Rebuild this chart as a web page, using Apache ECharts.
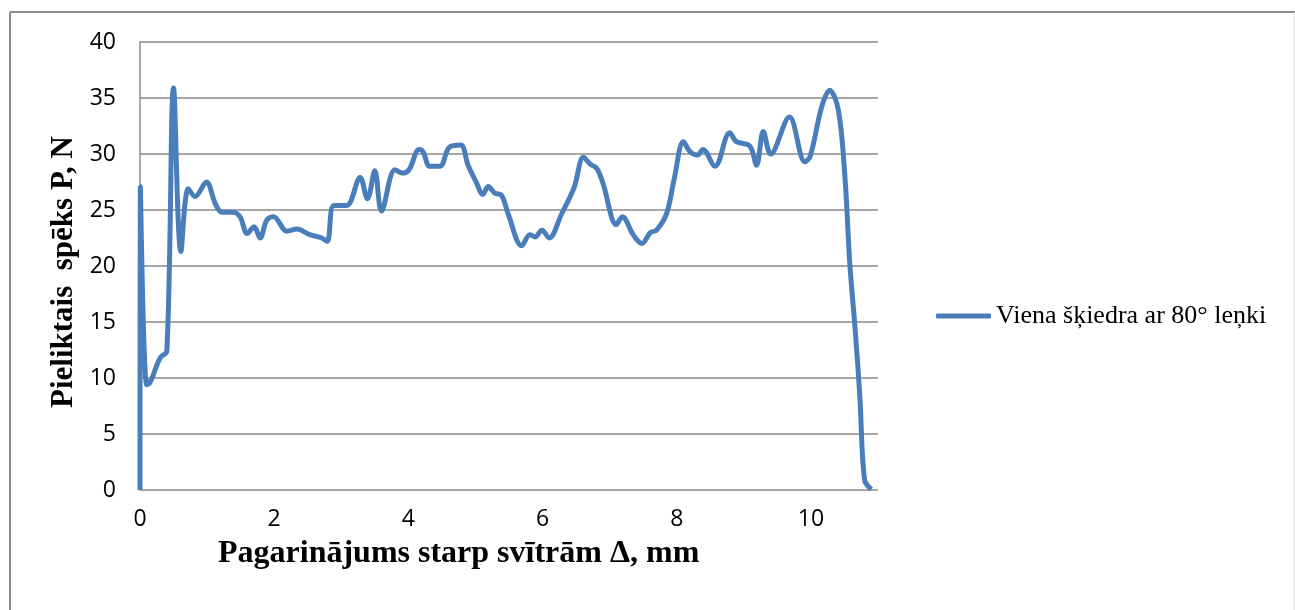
<!DOCTYPE html>
<html>
<head>
<meta charset="utf-8">
<script src="https://cdn.jsdelivr.net/npm/echarts@6/dist/echarts.min.js"></script>
<style>
  html, body { margin: 0; padding: 0; background: #ffffff; }
  #chart { width: 1295px; height: 610px; }
</style>
</head>
<body>
<div id="chart"></div>
<script>
// Elongation between marks (mm) and applied force (N)
const elongation = [
  0, 0.005, 0.1, 0.15, 0.30, 0.40, 0.50, 0.61, 0.72, 0.82, 0.99, 1.12, 1.22, 1.39, 1.49,
  1.60, 1.70, 1.79, 1.89, 1.99, 2.19, 2.34, 2.53, 2.71, 2.79, 2.89, 3.08, 3.28, 3.39, 3.50,
  3.60, 3.80, 3.91, 4.01, 4.16, 4.22, 4.32, 4.47, 4.61, 4.78, 4.89, 5.01, 5.11, 5.19, 5.29,
  5.39, 5.49, 5.69, 5.81, 5.89, 5.99, 6.10, 6.28, 6.47, 6.61, 6.71, 6.81, 6.90, 7.10, 7.19,
  7.35, 7.48, 7.61, 7.70, 7.85, 7.96, 8.10, 8.20, 8.31, 8.39, 8.57, 8.79, 8.89, 9.09, 9.19,
  9.29, 9.40, 9.68, 9.91, 9.99, 10.16, 10.28, 10.41, 10.51, 10.58, 10.66, 10.73, 10.80, 10.90
];
const force = [
  0, 27.1, 9.4, 9.6, 11.8, 12.4, 35.9, 21.3, 26.9, 26.2, 27.5, 25.6, 24.8, 24.8, 24.4,
  22.9, 23.5, 22.5, 24.1, 24.4, 23.1, 23.3, 22.8, 22.5, 22.2, 25.4, 25.4, 27.9, 26.0, 28.5,
  24.9, 28.6, 28.3, 28.6, 30.4, 30.2, 28.9, 28.9, 30.6, 30.8, 29.0, 27.5, 26.4, 27.1, 26.5,
  26.3, 24.6, 21.8, 22.8, 22.6, 23.2, 22.5, 24.6, 27.0, 29.7, 29.1, 28.7, 27.4, 23.7, 24.4,
  22.8, 22.0, 23.0, 23.2, 24.7, 27.7, 31.1, 30.2, 29.9, 30.4, 28.9, 31.9, 31.1, 30.7, 29.0,
  32.0, 30.0, 33.3, 29.3, 29.8, 34.2, 35.7, 33.9, 27.7, 20.2, 14.3, 8.3, 0.9, 0.06
];
const seriesName = 'Viena šķiedra ar 80° leņki';
const xTitle = 'Pagarinājums starp svītrām Δ, mm';
const yTitle = 'Pieliktais  spēks P, N';

const points = elongation.map((x, i) => [x, force[i]]);

const chart = echarts.init(document.getElementById('chart'));
const gridColor = '#8a8a8a';
const lineColor = '#4a7ebb';
const tickFont = { fontFamily: 'Open Sans', fontSize: 23, color: '#000' };

chart.setOption({
  backgroundColor: '#ffffff',
  animation: false,
  grid: { left: 140, top: 42, width: 738, height: 448, containLabel: false },
  xAxis: {
    type: 'value',
    min: 0, max: 11, interval: 2,
    axisLine: { show: false },
    axisTick: { show: false },
    splitLine: { show: false },
    axisLabel: Object.assign({ margin: 18, showMaxLabel: false }, tickFont)
  },
  yAxis: {
    type: 'value',
    min: 0, max: 40, interval: 5,
    axisLine: { show: true, lineStyle: { color: gridColor, width: 1.5 } },
    axisTick: { show: false },
    splitLine: { show: true, lineStyle: { color: gridColor, width: 1.5 } },
    axisLabel: Object.assign({ margin: 24 }, tickFont)
  },
  legend: {
    left: 931, top: 298,
    icon: 'roundRect',
    itemWidth: 55, itemHeight: 5, itemGap: 6,
    itemStyle: { color: lineColor, borderWidth: 0 },
    textStyle: { fontFamily: 'Liberation Serif', fontSize: 26, color: '#000', padding: [0, 0, 0, 0] },
    data: [seriesName]
  },
  graphic: [
    { type: 'line', shape: { x1: 10, y1: 12, x2: 1295, y2: 12 }, style: { stroke: '#8c8c8c', lineWidth: 2 } },
    { type: 'line', shape: { x1: 10, y1: 12, x2: 10, y2: 610 }, style: { stroke: '#8c8c8c', lineWidth: 2 } },
    { type: 'line', shape: { x1: 1294, y1: 12, x2: 1294, y2: 610 }, style: { stroke: '#d9d9d9', lineWidth: 1 } },
    {
      type: 'text', left: 218, top: 538,
      style: { text: xTitle, font: 'bold 32px "Liberation Serif"', fill: '#000' }
    },
    {
      type: 'text', rotation: Math.PI / 2, x: 48, y: 408,
      style: { text: yTitle, font: 'bold 31px "Liberation Serif"', fill: '#000' }
    }
  ],
  series: [{
    name: seriesName,
    type: 'line',
    data: points,
    smooth: 0.35,
    symbol: 'none',
    lineStyle: { color: lineColor, width: 5 },
    itemStyle: { color: lineColor }
  }]
});
</script>
</body>
</html>
